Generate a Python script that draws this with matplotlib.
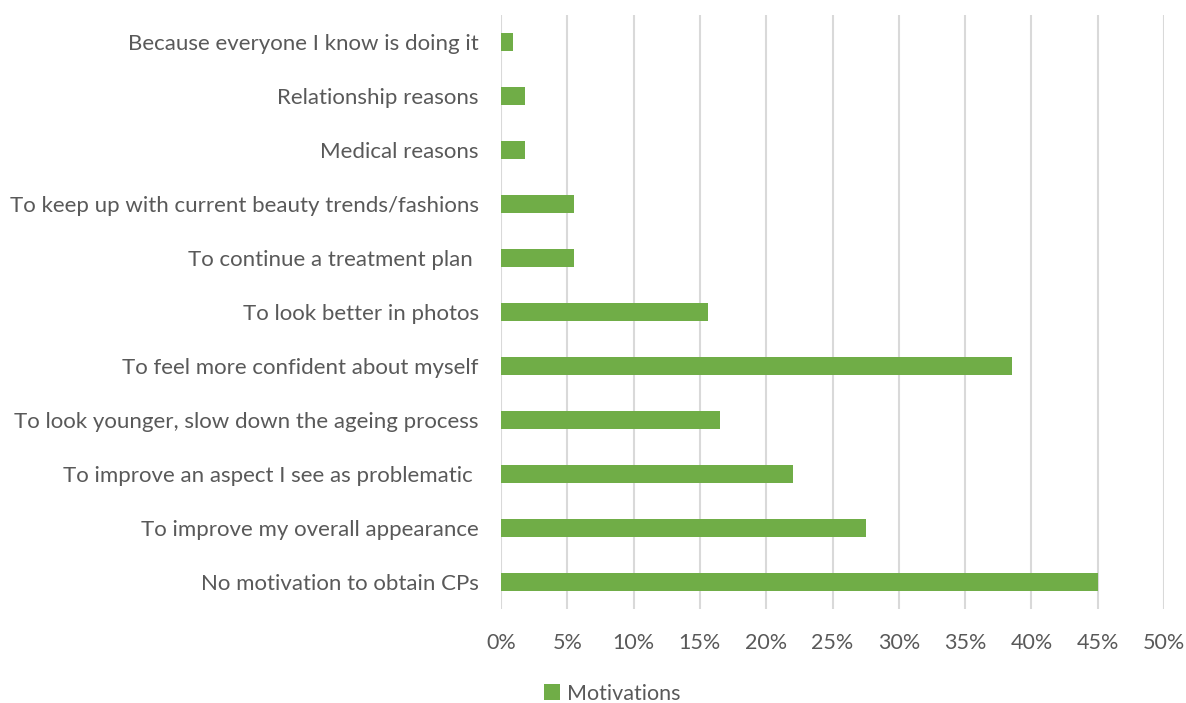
import matplotlib.pyplot as plt
from matplotlib.ticker import PercentFormatter

categories = [
    "No motivation to obtain CPs",
    "To improve my overall appearance",
    "To improve an aspect I see as problematic ",
    "To look younger, slow down the ageing process",
    "To feel more confident about myself",
    "To look better in photos",
    "To continue a treatment plan ",
    "To keep up with current beauty trends/fashions",
    "Medical reasons",
    "Relationship reasons",
    "Because everyone I know is doing it",
]
values = [45.0, 27.5, 22.0, 16.5, 38.5, 15.6, 5.5, 5.5, 1.8, 1.8, 0.9]
x_ticks = list(range(0, 55, 5))

plt.rcParams['font.family'] = ['Lato', 'DejaVu Sans']
text_color = '#595959'
green = '#70ad47'

fig = plt.figure(figsize=(11.86, 7.03), dpi=100)
ax = fig.add_axes([0.4224, 0.1337, 0.5591, 0.845])

ypos = range(len(categories))
ax.barh(ypos, values, height=0.35, color=green, label='Motivations', zorder=3)
ax.set_ylim(-0.5, len(categories) - 0.5)
ax.set_xlim(0, 50)
ax.set_xticks(x_ticks)
ax.xaxis.set_major_formatter(PercentFormatter(decimals=0))
ax.set_yticks(list(ypos))
ax.set_yticklabels(categories)

ax.grid(axis='x', color='#d9d9d9', linewidth=1.5, zorder=0)
for s in ax.spines.values():
    s.set_visible(False)
ax.tick_params(axis='both', length=0, labelsize=15.5, colors=text_color)
ax.tick_params(axis='y', labelsize=16, pad=16)
ax.tick_params(axis='x', pad=17)

fig.legend(loc='center', bbox_to_anchor=(0.516, 0.013), frameon=False,
           fontsize=15.5, labelcolor=text_color, handlelength=0.75, handleheight=0.75,
           handletextpad=0.3)

fig.savefig('out.png', dpi=100)
